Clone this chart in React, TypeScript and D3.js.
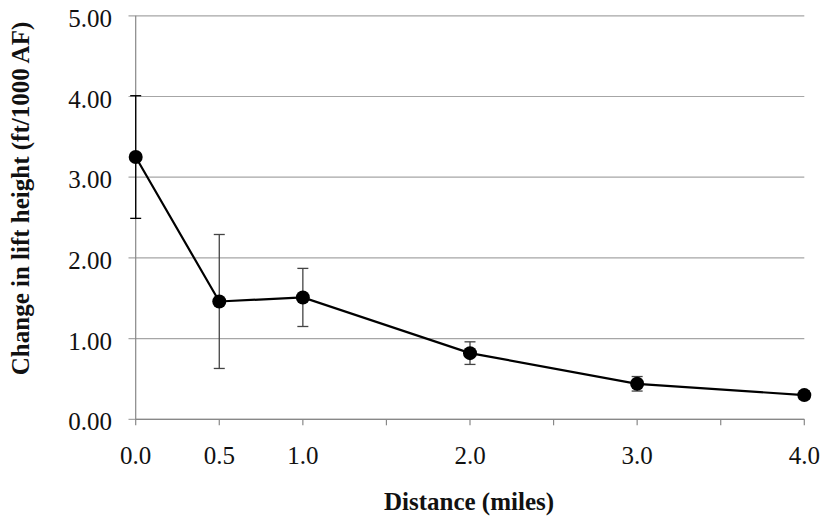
import React from 'react';
import * as d3 from 'd3';

// distance (miles), mean change in lift height and error bar half-widths
const distances = [0.0, 0.5, 1.0, 2.0, 3.0, 4.0];
const liftChange = [3.25, 1.46, 1.51, 0.82, 0.44, 0.30];
const errors = [0.76, 0.83, 0.36, 0.14, 0.09, 0.05];
const xTicks = [0, 0.5, 1, 1.5, 2, 2.5, 3, 3.5, 4];
const xLabels = ['0.0', '0.5', '1.0', '2.0', '3.0', '4.0'];
const yTicks = [0, 1, 2, 3, 4, 5];

const W = 825;
const H = 519;
const font = '"Liberation Serif", "Times New Roman", serif';

export default function App() {
  const x = d3.scaleLinear().domain([0, 4]).range([135.7, 804.3]);
  const y = d3.scaleLinear().domain([0, 5]).range([419.3, 15.8]);

  const pts = distances.map((d, i) => ({ d, v: liftChange[i], e: errors[i] }));
  const line = d3.line<{ d: number; v: number }>()
    .x(p => x(p.d))
    .y(p => y(p.v));

  return (
    <svg width={W} height={H} style={{ position: 'absolute', left: 0, top: 0 }}>
      <rect width={W} height={H} fill="#fff" />
      {/* gridlines + y ticks */}
      {yTicks.map(t => (
        <g key={t}>
          <line x1={128.5} x2={x(4)} y1={y(t)} y2={y(t)} stroke="#a6a6a6" strokeWidth={1.2} />
          <text x={112} y={y(t) + 11} textAnchor="end" fontFamily={font} fontSize={25} fill="#111">
            {t.toFixed(2)}
          </text>
        </g>
      ))}
      {/* y axis */}
      <line x1={x(0)} x2={x(0)} y1={y(5)} y2={y(0)} stroke="#888" strokeWidth={1.2} />
      {/* x axis */}
      <line x1={x(0)} x2={x(4)} y1={y(0)} y2={y(0)} stroke="#888" strokeWidth={1.2} />
      {xTicks.map(t => (
        <line key={t} x1={x(t)} x2={x(t)} y1={y(0)} y2={y(0) + 6} stroke="#888" strokeWidth={1.2} />
      ))}
      {xLabels.map(l => (
        <text key={l} x={x(+l)} y={464} textAnchor="middle" fontFamily={font} fontSize={25} fill="#111">
          {l}
        </text>
      ))}
      {/* error bars */}
      {pts.map(p => (
        <g key={p.d} stroke={p.d === 0 ? '#000' : '#444'} strokeWidth={1.3}>
          <line x1={x(p.d)} x2={x(p.d)} y1={y(p.v + p.e)} y2={y(p.v - p.e)} />
          <line x1={x(p.d) - 5.5} x2={x(p.d) + 5.5} y1={y(p.v + p.e)} y2={y(p.v + p.e)} />
          <line x1={x(p.d) - 5.5} x2={x(p.d) + 5.5} y1={y(p.v - p.e)} y2={y(p.v - p.e)} />
        </g>
      ))}
      <path d={line(pts) || ''} fill="none" stroke="#000" strokeWidth={2.2} />
      {pts.map(p => (
        <circle key={p.d} cx={x(p.d)} cy={y(p.v)} r={7} fill="#000" />
      ))}
      {/* titles */}
      <text x={469} y={510} textAnchor="middle" fontFamily={font} fontSize={25} fontWeight="bold" fill="#111">
        Distance (miles)
      </text>
      <text
        transform="translate(29, 198.5) rotate(-90)"
        textAnchor="middle"
        fontFamily={font}
        fontSize={25}
        fontWeight="bold"
        fill="#111"
      >
        Change in lift height (ft/1000 AF)
      </text>
    </svg>
  );
}
